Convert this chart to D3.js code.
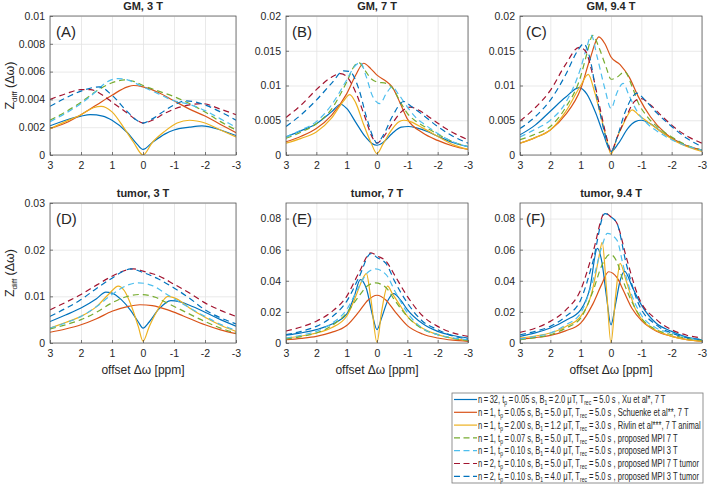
<!DOCTYPE html>
<html><head><meta charset="utf-8">
<script src="https://cdn.jsdelivr.net/npm/d3@7"></script>
<style>
html,body{margin:0;padding:0;background:#fff;}
svg text{font-family:"Liberation Sans",Arial,Helvetica,sans-serif;fill:#262626;}
</style></head>
<body><svg id="chart" width="709" height="485"></svg>
<script>
// ---------------- data ----------------
const seriesColors = ["#0072BD","#D95319","#EDB120","#77AC30","#4DBEEE","#A2142F","#0072BD"];
const seriesDashed = [false,false,false,true,true,true,true];
const panelTitles = ["GM, 3 T","GM, 7 T","GM, 9.4 T","tumor, 3 T","tumor, 7 T","tumor, 9.4 T"];
const panelLetters = ["(A)","(B)","(C)","(D)","(E)","(F)"];
const panelYMax = [0.01,0.02,0.02,0.03,0.09,0.09];
const panelYTicks = [
  [0,0.002,0.004,0.006,0.008,0.01],
  [0,0.005,0.01,0.015,0.02],
  [0,0.005,0.01,0.015,0.02],
  [0,0.01,0.02,0.03],
  [0,0.02,0.04,0.06,0.08],
  [0,0.02,0.04,0.06,0.08]
];
const xTicks = [3,2,1,0,-1,-2,-3];

// each series: list of [offset (ppm), Zdiff]
const gm3T = [
  [[3,0.0021],[2.5,0.0025],[2,0.0028],[1.7,0.0029],[1.3,0.0028],[1,0.0025],[0.5,0.0016],[0.2,0.0008],[0,0.0004],[-0.3,0.0009],[-0.7,0.0015],[-1,0.0018],[-1.5,0.0020],[-1.9,0.0021],[-2.5,0.0018],[-3,0.0014]],
  [[3,0.0019],[2.5,0.0023],[2,0.0029],[1.5,0.0036],[1,0.0043],[0.5,0.0049],[0.3,0.0050],[0,0.0049],[-0.5,0.0045],[-1,0.0039],[-1.5,0.0033],[-2,0.0028],[-2.5,0.0022],[-3,0.0016]],
  [[3,0.0019],[2.5,0.0024],[2,0.0029],[1.6,0.0034],[1.35,0.0035],[1,0.0031],[0.6,0.0019],[0.3,0.0009],[0,0.0],[-0.3,0.0009],[-0.7,0.0017],[-1.1,0.0023],[-1.5,0.0025],[-2,0.0023],[-2.5,0.0018],[-3,0.0013]],
  [[3,0.0025],[2.5,0.0031],[2,0.0038],[1.5,0.0046],[1,0.0052],[0.6,0.0054],[0.3,0.0053],[0,0.0050],[-0.5,0.0046],[-1,0.0042],[-1.5,0.0037],[-2,0.0031],[-2.5,0.0024],[-3,0.0018]],
  [[3,0.0024],[2.5,0.0030],[2,0.0037],[1.5,0.0046],[1.2,0.0052],[0.8,0.0055],[0.5,0.0054],[0,0.0049],[-0.5,0.0044],[-1,0.0039],[-1.4,0.0037],[-2,0.0032],[-2.5,0.0026],[-3,0.0020]],
  [[3,0.0040],[2.5,0.0044],[2,0.0047],[1.7,0.0047],[1.3,0.0043],[1,0.0038],[0.5,0.0030],[0.2,0.0025],[0,0.0023],[-0.3,0.0025],[-0.7,0.0030],[-1,0.0033],[-1.5,0.0036],[-1.9,0.0037],[-2.5,0.0033],[-3,0.0029]],
  [[3,0.0035],[2.5,0.0041],[2,0.0046],[1.4,0.0049],[1,0.0043],[0.5,0.0031],[0.2,0.0025],[0,0.0023],[-0.3,0.0026],[-0.7,0.0032],[-1,0.0036],[-1.4,0.0039],[-2,0.0036],[-2.5,0.0031],[-3,0.0025]]
];
const gm7T = [
  [[3,0.0026],[2.5,0.0035],[2,0.0045],[1.5,0.0062],[1.2,0.0073],[1,0.0067],[0.7,0.0047],[0.4,0.0027],[0.15,0.0016],[0,0.0014],[-0.2,0.0018],[-0.5,0.0031],[-0.8,0.0040],[-1.03,0.0041],[-1.3,0.0039],[-1.7,0.0033],[-2,0.0027],[-2.5,0.0018],[-3,0.0012]],
  [[3,0.0019],[2.5,0.0027],[2,0.0038],[1.5,0.0057],[1,0.0088],[0.7,0.0115],[0.44,0.0132],[0.2,0.0124],[0,0.0115],[-0.3,0.0106],[-0.5,0.0098],[-0.75,0.0076],[-1,0.0052],[-1.5,0.0032],[-2,0.0021],[-2.5,0.0013],[-3,0.0008]],
  [[3,0.0017],[2.5,0.0024],[2,0.0033],[1.5,0.0053],[1.1,0.0078],[0.9,0.0087],[0.7,0.0075],[0.45,0.0045],[0.2,0.0018],[0,0.0002],[-0.2,0.0016],[-0.45,0.0034],[-0.7,0.0047],[-0.88,0.0050],[-1.1,0.0048],[-1.5,0.0039],[-2,0.0027],[-2.5,0.0015],[-3,0.0008]],
  [[3,0.0024],[2.5,0.0033],[2,0.0045],[1.5,0.0066],[1,0.0105],[0.75,0.0128],[0.6,0.0133],[0.4,0.0122],[0.2,0.0110],[0,0.0105],[-0.3,0.0103],[-0.5,0.0097],[-0.8,0.0074],[-1,0.0060],[-1.3,0.0048],[-1.6,0.0040],[-2,0.0030],[-2.5,0.0019],[-3,0.0012]],
  [[3,0.0026],[2.5,0.0036],[2,0.0048],[1.5,0.0072],[1,0.0108],[0.75,0.0127],[0.55,0.0133],[0.35,0.0112],[0.15,0.0085],[-0.1,0.0074],[-0.3,0.0088],[-0.5,0.0098],[-0.7,0.0088],[-1,0.0069],[-1.3,0.0053],[-1.6,0.0043],[-2,0.0031],[-2.5,0.0019],[-3,0.0012]],
  [[3,0.0054],[2.5,0.0072],[2,0.0094],[1.5,0.0112],[1.2,0.0117],[1,0.0113],[0.7,0.0090],[0.4,0.0055],[0.15,0.0025],[0,0.0017],[-0.2,0.0025],[-0.5,0.0045],[-0.8,0.0062],[-1.1,0.0069],[-1.4,0.0064],[-1.8,0.0052],[-2.2,0.0040],[-2.6,0.0030],[-3,0.0022]],
  [[3,0.0041],[2.5,0.0058],[2,0.0079],[1.5,0.0103],[1.1,0.0121],[0.9,0.0120],[0.6,0.0095],[0.35,0.0055],[0.12,0.0025],[0,0.0017],[-0.2,0.0028],[-0.5,0.0055],[-0.88,0.0077],[-1.1,0.0071],[-1.5,0.0058],[-2,0.0041],[-2.5,0.0027],[-3,0.0017]]
];
const gm94T = [
  [[3,0.0029],[2.5,0.0043],[2,0.0063],[1.5,0.0083],[1.05,0.0097],[0.8,0.0088],[0.5,0.0060],[0.25,0.0030],[0,0.0005],[-0.25,0.0017],[-0.55,0.0038],[-0.8,0.0048],[-1,0.0050],[-1.3,0.0045],[-1.7,0.0032],[-2,0.0024],[-2.5,0.0013],[-3,0.0007]],
  [[3,0.0017],[2.5,0.0025],[2,0.0036],[1.5,0.0058],[1,0.0095],[0.7,0.0137],[0.4,0.0170],[0.2,0.0160],[0,0.0141],[-0.3,0.0130],[-0.6,0.0112],[-0.9,0.0084],[-1.3,0.0055],[-1.8,0.0031],[-2.4,0.0015],[-3,0.0007]],
  [[3,0.0017],[2.5,0.0025],[2,0.0036],[1.5,0.0062],[1,0.0100],[0.75,0.0116],[0.55,0.0092],[0.3,0.0050],[0.1,0.0015],[0,0.0001],[-0.2,0.0025],[-0.4,0.0044],[-0.7,0.0065],[-0.9,0.0058],[-1.2,0.0048],[-1.7,0.0032],[-2.2,0.0018],[-3,0.0005]],
  [[3,0.0022],[2.5,0.0030],[2,0.0041],[1.5,0.0068],[1,0.0113],[0.8,0.0145],[0.6,0.0172],[0.4,0.0155],[0.15,0.0125],[0,0.0109],[-0.2,0.0112],[-0.45,0.0120],[-0.7,0.0098],[-0.9,0.0075],[-1.2,0.0055],[-1.6,0.0038],[-2,0.0026],[-2.5,0.0014],[-3,0.0007]],
  [[3,0.0026],[2.5,0.0037],[2,0.0050],[1.5,0.0075],[1,0.0125],[0.8,0.0155],[0.65,0.0172],[0.45,0.0140],[0.2,0.0095],[0,0.0067],[-0.2,0.0090],[-0.4,0.0103],[-0.6,0.0085],[-0.9,0.0060],[-1.2,0.0045],[-1.6,0.0032],[-2,0.0022],[-2.5,0.0013],[-3,0.0007]],
  [[3,0.0049],[2.5,0.0068],[2,0.0093],[1.5,0.0130],[1.05,0.0155],[0.85,0.0150],[0.6,0.0115],[0.35,0.0065],[0.1,0.0018],[0,0.0005],[-0.2,0.0025],[-0.5,0.0055],[-0.8,0.0078],[-1,0.0081],[-1.3,0.0072],[-1.7,0.0055],[-2.2,0.0036],[-2.6,0.0025],[-3,0.0017]],
  [[3,0.0038],[2.5,0.0055],[2,0.0079],[1.5,0.0115],[1.1,0.0150],[0.9,0.0160],[0.7,0.0140],[0.45,0.0080],[0.2,0.0030],[0,0.0005],[-0.2,0.0025],[-0.45,0.0060],[-0.7,0.0083],[-0.85,0.0089],[-1.1,0.0080],[-1.5,0.0061],[-2,0.0041],[-2.5,0.0024],[-3,0.0012]]
];
const tumor3T = [
  [[3,0.0046],[2.5,0.0060],[2,0.0075],[1.5,0.0095],[1.2,0.0109],[1,0.0107],[0.7,0.0093],[0.4,0.0070],[0.15,0.0045],[0,0.0032],[-0.2,0.0045],[-0.5,0.0072],[-0.9,0.0091],[-1.2,0.0088],[-1.5,0.0081],[-2,0.0066],[-2.5,0.0050],[-3,0.0036]],
  [[3,0.0023],[2.5,0.0030],[2,0.0039],[1.5,0.0052],[1,0.0068],[0.5,0.0078],[0.1,0.0082],[-0.3,0.0080],[-0.8,0.0071],[-1.3,0.0058],[-2,0.0039],[-2.5,0.0028],[-3,0.0020]],
  [[3,0.0032],[2.5,0.0044],[2,0.0057],[1.5,0.0078],[1.1,0.0105],[0.8,0.0122],[0.6,0.0112],[0.35,0.0075],[0.15,0.0035],[0,0.0004],[-0.2,0.0035],[-0.45,0.0068],[-0.8,0.0100],[-1.1,0.0094],[-1.5,0.0075],[-2,0.0055],[-2.5,0.0038],[-3,0.0025]],
  [[3,0.0030],[2.5,0.0039],[2,0.0050],[1.5,0.0066],[1,0.0086],[0.5,0.0100],[0.1,0.0104],[-0.4,0.0098],[-0.8,0.0085],[-1.2,0.0072],[-2,0.0046],[-2.5,0.0032],[-3,0.0021]],
  [[3,0.0032],[2.5,0.0043],[2,0.0057],[1.5,0.0078],[1,0.0104],[0.5,0.0124],[0.15,0.0129],[-0.3,0.0123],[-0.8,0.0103],[-1.3,0.0083],[-2,0.0057],[-2.5,0.0040],[-3,0.0027]],
  [[3,0.0071],[2.5,0.0087],[2,0.0104],[1.5,0.0124],[1,0.0143],[0.5,0.0157],[0.3,0.0159],[0,0.0154],[-0.5,0.0144],[-1,0.0126],[-1.5,0.0107],[-2,0.0086],[-2.5,0.0070],[-3,0.0057]],
  [[3,0.0057],[2.5,0.0074],[2,0.0093],[1.5,0.0117],[1,0.0139],[0.6,0.0155],[0.4,0.0159],[0,0.0151],[-0.5,0.0137],[-1,0.0118],[-1.5,0.0096],[-2,0.0071],[-2.5,0.0054],[-3,0.0041]]
];
const tumor7T = [
  [[3,0.0050],[2.5,0.0065],[2,0.0086],[1.5,0.0120],[1,0.0185],[0.75,0.0300],[0.55,0.0408],[0.35,0.0350],[0.15,0.0180],[0,0.0086],[-0.15,0.0160],[-0.35,0.0270],[-0.55,0.0318],[-0.8,0.0270],[-1,0.0215],[-1.5,0.0125],[-2,0.0075],[-2.5,0.0048],[-3,0.0032]],
  [[3,0.0021],[2.5,0.0030],[2,0.0043],[1.5,0.0068],[1,0.0112],[0.6,0.0200],[0.3,0.0275],[0,0.0307],[-0.3,0.0275],[-0.6,0.0200],[-1,0.0112],[-1.5,0.0058],[-2,0.0032],[-2.5,0.0018],[-3,0.0011]],
  [[3,0.0032],[2.5,0.0045],[2,0.0064],[1.5,0.0098],[1,0.0172],[0.7,0.0300],[0.5,0.0400],[0.35,0.0446],[0.2,0.0280],[0,0.0004],[-0.15,0.0200],[-0.35,0.0365],[-0.5,0.0320],[-0.8,0.0230],[-1,0.0172],[-1.5,0.0095],[-2,0.0054],[-2.5,0.0030],[-3,0.0017]],
  [[3,0.0026],[2.5,0.0041],[2,0.0064],[1.5,0.0110],[1,0.0193],[0.6,0.0300],[0.3,0.0370],[0.05,0.0386],[-0.3,0.0355],[-0.6,0.0270],[-1,0.0170],[-1.5,0.0090],[-2,0.0054],[-2.5,0.0030],[-3,0.0017]],
  [[3,0.0032],[2.5,0.0050],[2,0.0075],[1.5,0.0125],[1,0.0215],[0.6,0.0360],[0.3,0.0455],[0.05,0.0476],[-0.3,0.0440],[-0.6,0.0330],[-1,0.0195],[-1.5,0.0095],[-2,0.0054],[-2.5,0.0033],[-3,0.0021]],
  [[3,0.0077],[2.5,0.0103],[2,0.0140],[1.5,0.0200],[1,0.0300],[0.6,0.0450],[0.2,0.0580],[0,0.0560],[-0.3,0.0525],[-0.6,0.0430],[-1,0.0300],[-1.5,0.0175],[-2,0.0107],[-2.5,0.0065],[-3,0.0043]],
  [[3,0.0054],[2.5,0.0075],[2,0.0107],[1.5,0.0165],[1,0.0268],[0.6,0.0420],[0.2,0.0575],[0,0.0550],[-0.3,0.0510],[-0.6,0.0390],[-1,0.0258],[-1.5,0.0140],[-2,0.0086],[-2.5,0.0045],[-3,0.0026]]
];
const tumor94T = [
  [[3,0.0043],[2.5,0.0065],[2,0.0096],[1.5,0.0145],[1,0.0213],[0.7,0.0350],[0.45,0.0608],[0.3,0.0520],[0.15,0.0300],[0,0.0117],[-0.15,0.0250],[-0.3,0.0400],[-0.45,0.0460],[-0.7,0.0360],[-1,0.0245],[-1.5,0.0125],[-2,0.0075],[-2.5,0.0038],[-3,0.0021]],
  [[3,0.0026],[2.5,0.0035],[2,0.0049],[1.5,0.0078],[1,0.0128],[0.6,0.0250],[0.3,0.0380],[0.08,0.0458],[-0.2,0.0420],[-0.4,0.0341],[-0.7,0.0220],[-1,0.0145],[-1.5,0.0075],[-2,0.0043],[-2.5,0.0022],[-3,0.0011]],
  [[3,0.0032],[2.5,0.0045],[2,0.0064],[1.5,0.0105],[1,0.0171],[0.6,0.0350],[0.4,0.0550],[0.29,0.0647],[0.15,0.0350],[0,0.0],[-0.15,0.0300],[-0.3,0.0512],[-0.5,0.0400],[-0.8,0.0220],[-1,0.0155],[-1.5,0.0080],[-2,0.0043],[-2.5,0.0022],[-3,0.0011]],
  [[3,0.0021],[2.5,0.0035],[2,0.0053],[1.5,0.0095],[1,0.0160],[0.6,0.0330],[0.3,0.0500],[0.03,0.0570],[-0.2,0.0520],[-0.4,0.0400],[-0.7,0.0260],[-1,0.0160],[-1.5,0.0085],[-2,0.0053],[-2.5,0.0030],[-3,0.0017]],
  [[3,0.0026],[2.5,0.0042],[2,0.0064],[1.5,0.0115],[1,0.0192],[0.6,0.0400],[0.3,0.0620],[0.12,0.0705],[-0.2,0.0660],[-0.4,0.0500],[-0.7,0.0300],[-1,0.0180],[-1.5,0.0095],[-2,0.0064],[-2.5,0.0035],[-3,0.0021]],
  [[3,0.0068],[2.5,0.0095],[2,0.0139],[1.5,0.0210],[1,0.0341],[0.6,0.0580],[0.2,0.0836],[0,0.0810],[-0.2,0.0768],[-0.5,0.0554],[-0.9,0.0299],[-1.5,0.0150],[-2,0.0085],[-2.5,0.0050],[-3,0.0032]],
  [[3,0.0053],[2.5,0.0075],[2,0.0107],[1.5,0.0170],[1,0.0277],[0.6,0.0520],[0.2,0.0832],[0,0.0810],[-0.2,0.0768],[-0.5,0.0512],[-0.9,0.0256],[-1.5,0.0115],[-2,0.0064],[-2.5,0.0035],[-3,0.0021]]
];
const panelData = [gm3T, gm7T, gm94T, tumor3T, tumor7T, tumor94T];

const legendN = ["32","1","1","1","1","2","2"];
const legendTp = ["0.05","0.05","2.00","0.07","0.10","0.10","0.10"];
const legendB1 = ["2.0","5.0","1.2","5.0","4.0","5.0","4.0"];
const legendTrec = ["5.0","5.0","3.0","5.0","5.0","5.0","5.0"];
const legendSource = ["Xu et al*, 7 T","Schuenke et al**, 7 T","Rivlin et al***, 7 T animal","proposed MPI 7 T","proposed  MPI 3 T","proposed MPI 7 T tumor","proposed  MPI 3 T tumor"];

// ---------------- layout ----------------
const svg = d3.select("#chart");
const colX = [[50,236],[286,468],[520,702]];
const rowY = [[16,155],[203,343]];
const fontStack = '"Liberation Sans",Arial,sans-serif';

panelData.forEach((series, i) => {
  const c = i % 3, r = Math.floor(i / 3);
  const [x0, x1] = colX[c], [y0, y1] = rowY[r];
  const x = d3.scaleLinear().domain([3, -3]).range([x0, x1]);
  const y = d3.scaleLinear().domain([0, panelYMax[i]]).range([y1, y0]);
  const g = svg.append("g");
  const clipId = "clip" + i;
  svg.append("clipPath").attr("id", clipId).append("rect")
    .attr("x", x0).attr("y", y0).attr("width", x1 - x0).attr("height", y1 - y0);

  // grid
  g.append("g").attr("transform", `translate(0,${y1})`)
    .call(d3.axisBottom(x).tickValues(xTicks).tickSize(-(y1 - y0)).tickFormat(""))
    .call(s => { s.select(".domain").remove(); s.selectAll("line").attr("stroke", "#e3e3e3").attr("stroke-width", 0.8); });
  g.append("g").attr("transform", `translate(${x0},0)`)
    .call(d3.axisLeft(y).tickValues(panelYTicks[i]).tickSize(-(x1 - x0)).tickFormat(""))
    .call(s => { s.select(".domain").remove(); s.selectAll("line").attr("stroke", "#e3e3e3").attr("stroke-width", 0.8); });

  // lines
  const line = d3.line().x(d => x(d[0])).y(d => y(d[1])).curve(d3.curveMonotoneX);
  const lg = g.append("g").attr("clip-path", `url(#${clipId})`);
  series.forEach((pts, k) => {
    lg.append("path").datum(pts).attr("d", line)
      .attr("fill", "none").attr("stroke", seriesColors[k]).attr("stroke-width", 1.2)
      .attr("stroke-dasharray", seriesDashed[k] ? "6,4" : null);
  });

  // axes with labels
  const ax = g.append("g").attr("transform", `translate(0,${y1})`)
    .call(d3.axisBottom(x).tickValues(xTicks).tickSize(-3).tickPadding(7).tickFormat(d => d));
  const ay = g.append("g").attr("transform", `translate(${x0},0)`)
    .call(d3.axisLeft(y).tickValues(panelYTicks[i]).tickSize(-3).tickPadding(5).tickFormat(d => d));
  [ax, ay].forEach(a => {
    a.select(".domain").remove();
    a.selectAll("line").attr("stroke", "#444").attr("stroke-width", 0.7);
    a.selectAll("text").attr("font-size", 10.5).attr("fill", "#262626").style("font-family", fontStack);
  });
  g.append("rect").attr("x", x0).attr("y", y0).attr("width", x1 - x0).attr("height", y1 - y0)
    .attr("fill", "none").attr("stroke", "#5a5a5a").attr("stroke-width", 0.8);

  // title
  g.append("text").attr("x", (x0 + x1) / 2).attr("y", y0 - 6).attr("text-anchor", "middle")
    .attr("font-size", 11).attr("font-weight", "bold").text(panelTitles[i]);
  // letter
  g.append("text").attr("x", x0 + 6).attr("y", y0 + 21).attr("font-size", 15).text(panelLetters[i]);

  // y label
  if (c === 0) {
    const t = g.append("text").attr("transform", `translate(14,${(y0 + y1) / 2}) rotate(-90)`)
      .attr("text-anchor", "middle").attr("font-size", 12.5);
    t.append("tspan").text("Z");
    t.append("tspan").attr("font-size", 8).attr("dy", 3).text("diff");
    t.append("tspan").attr("dy", -3).text(" (\u0394\u03C9)");
  }
  // x label
  if (r === 1) {
    g.append("text").attr("x", (x0 + x1) / 2).attr("y", y1 + 31).attr("text-anchor", "middle")
      .attr("font-size", 12).text("offset \u0394\u03C9 [ppm]");
  }
});

// ---------------- legend ----------------
const lgX = 452, lgY = 393, lgW = 251, lgH = 90;
const leg = svg.append("g");
leg.append("rect").attr("x", lgX).attr("y", lgY).attr("width", lgW).attr("height", lgH)
  .attr("fill", "#fff").attr("stroke", "#777").attr("stroke-width", 0.8);
const legTexts = [];
const ts = "\u2009";
legendN.forEach((n, k) => {
  const yy = lgY + 6.5 + k * 12.8;
  leg.append("line").attr("x1", lgX + 2).attr("x2", lgX + 25).attr("y1", yy).attr("y2", yy)
    .attr("stroke", seriesColors[k]).attr("stroke-width", 1.2)
    .attr("stroke-dasharray", seriesDashed[k] ? "6,3.5" : null);
  const t = leg.append("text").attr("x", 0).attr("y", 0).attr("font-size", 10.5);
  const sub = (s) => { t.append("tspan").attr("font-size", 7).attr("dy", 2).text(s); };
  const norm = (s) => { t.append("tspan").attr("dy", -2).text(s); };
  t.append("tspan").text(`n${ts}=${ts}${n}, t`);
  sub("p");
  norm(`${ts}=${ts}${legendTp[k]} s, B`);
  sub("1");
  norm(`${ts}=${ts}${legendB1[k]} \u03BCT, T`);
  sub("rec");
  norm(` =${ts}${legendTrec[k]} s , ${legendSource[k]}`);
  legTexts.push({ t, yy });
});
// fit legend text horizontally into the box
const maxW = d3.max(legTexts, d => d.t.node().getBBox().width);
const sx = (lgX + lgW - 2 - (lgX + 26)) / maxW;
legTexts.forEach(d => d.t.attr("transform", `translate(${lgX + 26},${d.yy + 3.6}) scale(${Math.min(1, sx)},1)`));
</script></body></html>
